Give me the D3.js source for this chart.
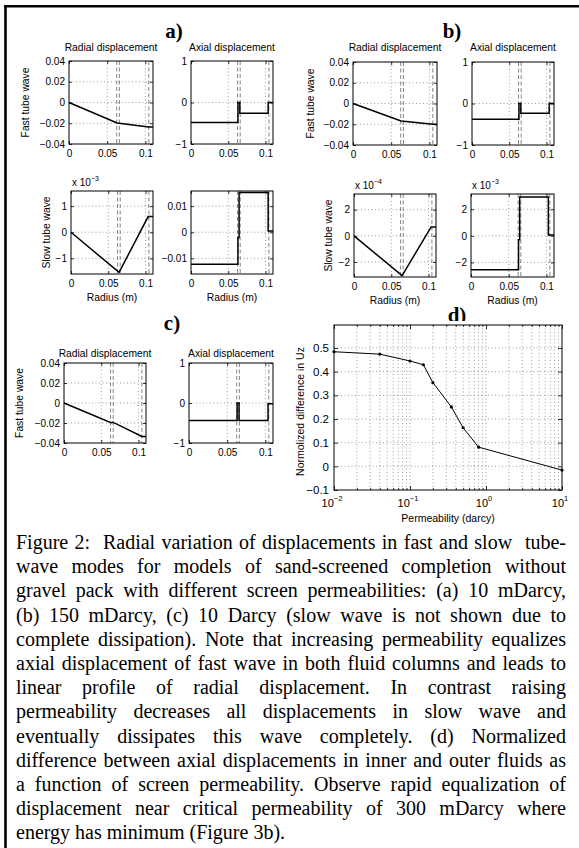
<!DOCTYPE html>
<html>
<head>
<meta charset="utf-8">
<script src="https://cdn.jsdelivr.net/npm/d3@7"></script>
<style>
  body { margin: 0; background: #fff; }
  svg text { font-family: "Liberation Sans", Arial, sans-serif; fill: #000; }
</style>
</head>
<body>
<svg id="fig" width="579" height="848"></svg>
<script>
// ---- data ----
const interfaces = [0.0625, 0.066, 0.1045];   // dashed lines (m)
const radiusTicks = [0, 0.05, 0.1];

// (a) 10 mDarcy
const fastRadA_r = [0, 0.063, 0.1045, 0.11];
const fastRadA_u = [0, -0.0198, -0.0236, -0.0236];
const fastAxA_r = [0, 0.063, 0.063, 0.0655, 0.0655, 0.1035, 0.1035, 0.11];
const fastAxA_u = [-0.48, -0.48, 0, 0, -0.26, -0.26, 0, 0];
const slowRadA_r = [0, 0.0645, 0.1035, 0.11];
const slowRadA_u = [0, -1.54, 0.6, 0.6];          // x 10^-3
const slowAxA_r = [0, 0.063, 0.063, 0.0645, 0.0645, 0.1035, 0.1035, 0.11];
const slowAxA_u = [-0.0123, -0.0123, -0.002, -0.002, 0.0152, 0.0152, 0.0005, 0.0005];

// (b) 150 mDarcy
const fastRadB_r = [0, 0.063, 0.1045, 0.11];
const fastRadB_u = [0, -0.0168, -0.0200, -0.0200];
const fastAxB_r = [0, 0.063, 0.063, 0.0655, 0.0655, 0.1035, 0.1035, 0.11];
const fastAxB_u = [-0.38, -0.38, 0, 0, -0.235, -0.235, 0, 0];
const slowRadB_r = [0, 0.0645, 0.1035, 0.11];
const slowRadB_u = [0, -3.05, 0.68, 0.68];        // x 10^-4
const slowAxB_r = [0, 0.063, 0.063, 0.0645, 0.0645, 0.1025, 0.1025, 0.11];
const slowAxB_u = [-2.55, -2.55, -0.3, -0.3, 2.92, 2.92, 0.07, 0.07]; // x 10^-3

// (c) 10 Darcy
const fastRadC_r = [0, 0.063, 0.0655, 0.1045, 0.11];
const fastRadC_u = [0, -0.0198, -0.0192, -0.0334, -0.0334];
const fastAxC_r = [0, 0.063, 0.063, 0.0655, 0.0655, 0.1035, 0.1035, 0.11];
const fastAxC_u = [-0.44, -0.44, 0, 0, -0.44, -0.44, -0.02, -0.02];

// (d) normalized difference vs permeability
const perm = [0.01, 0.04, 0.1, 0.15, 0.2, 0.35, 0.5, 0.8, 10];
const diffUz = [0.484, 0.474, 0.445, 0.429, 0.354, 0.251, 0.163, 0.081, -0.016];
const dYTicks = [-0.1, 0, 0.1, 0.2, 0.3, 0.4, 0.5];
const dXTicks = [0.01, 0.1, 1, 10];
const dXExp = ["\u22122", "\u22121", "0", "1"];

const captionLines = [
  "Figure 2:  Radial variation of displacements in fast and slow  tube-",
  "wave modes for models of sand-screened completion without",
  "gravel pack with different screen permeabilities: (a) 10 mDarcy,",
  "(b) 150 mDarcy, (c) 10 Darcy (slow wave is not shown due to",
  "complete dissipation). Note that increasing permeability equalizes",
  "axial displacement of fast wave in both fluid columns and leads to",
  "linear profile of radial displacement. In contrast raising",
  "permeability decreases all displacements in slow wave and",
  "eventually dissipates this wave completely. (d) Normalized",
  "difference between axial displacements in inner and outer fluids as",
  "a function of screen permeability. Observe rapid equalization of",
  "displacement near critical permeability of 300 mDarcy where",
  "energy has minimum (Figure 3b)."
];

const svg = d3.select("#fig");
const fmt = d3.format("~g");

// frame (top and left rules)
svg.append("line").attr("x1", 4).attr("x2", 579).attr("y1", 6.3).attr("y2", 6.3)
  .attr("stroke", "#000").attr("stroke-width", 2.6);
svg.append("line").attr("x1", 5.5).attr("x2", 5.5).attr("y1", 5).attr("y2", 848)
  .attr("stroke", "#000").attr("stroke-width", 2.6);

// panel letters
const letters = [["a)", 174, 38], ["b)", 452, 38], ["c)", 172, 330], ["d)", 457, 322]];
svg.selectAll("text.letter").data(letters).enter().append("text")
  .attr("class", "letter")
  .attr("x", d => d[1])
  .attr("y", d => d[2])
  .attr("text-anchor", "middle")
  .style("font-family", "'Liberation Serif', 'Times New Roman', serif")
  .style("font-weight", "bold").style("font-size", "21px")
  .text(d => d[0]);

// small panels: layout + which data
const panels = [
  {x0: 69, x1: 153, y0: 61, y1: 144, yDom: [-0.04, 0.04], yTicks: [-0.04, -0.02, 0, 0.02, 0.04],
   r: fastRadA_r, u: fastRadA_u, title: "Radial displacement", tY: 50.5, ylab: "Fast tube wave", ylabX: 25},
  {x0: 191, x1: 273, y0: 61, y1: 144, yDom: [-1, 1], yTicks: [-1, 0, 1],
   r: fastAxA_r, u: fastAxA_u, title: "Axial displacement", tY: 50.5},
  {x0: 353, x1: 437, y0: 62, y1: 145, yDom: [-0.04, 0.04], yTicks: [-0.04, -0.02, 0, 0.02, 0.04],
   r: fastRadB_r, u: fastRadB_u, title: "Radial displacement", tY: 50.5, ylab: "Fast tube wave", ylabX: 310},
  {x0: 472, x1: 554, y0: 62, y1: 145, yDom: [-1, 1], yTicks: [-1, 0, 1],
   r: fastAxB_r, u: fastAxB_u, title: "Axial displacement", tY: 50.5},
  {x0: 71, x1: 153, y0: 191, y1: 274, yDom: [-1.6, 1.58], yTicks: [-1, 0, 1],
   r: slowRadA_r, u: slowRadA_u, exp: "\u22123", ylab: "Slow tube wave", ylabX: 46, xlab: true},
  {x0: 191, x1: 273, y0: 191, y1: 274, yDom: [-0.016, 0.0158], yTicks: [-0.01, 0, 0.01],
   r: slowAxA_r, u: slowAxA_u, xlab: true},
  {x0: 354, x1: 436, y0: 194, y1: 277, yDom: [-3.15, 3.2], yTicks: [-2, 0, 2],
   r: slowRadB_r, u: slowRadB_u, exp: "\u22124", ylab: "Slow tube wave", ylabX: 328, xlab: true},
  {x0: 471, x1: 554, y0: 194, y1: 277, yDom: [-3.1, 3.15], yTicks: [-2, 0, 2],
   r: slowAxB_r, u: slowAxB_u, exp: "\u22123", xlab: true},
  {x0: 64, x1: 146, y0: 363, y1: 443, yDom: [-0.04, 0.04], yTicks: [-0.04, -0.02, 0, 0.02, 0.04],
   r: fastRadC_r, u: fastRadC_u, title: "Radial displacement", tY: 357, ylab: "Fast tube wave", ylabX: 19},
  {x0: 189, x1: 273, y0: 363, y1: 443, yDom: [-1, 1], yTicks: [-1, 0, 1],
   r: fastAxC_r, u: fastAxC_u, title: "Axial displacement", tY: 357}
];

function drawPanel(p) {
  const x = d3.scaleLinear().domain([0, 0.11]).range([p.x0, p.x1]);
  const y = d3.scaleLinear().domain(p.yDom).range([p.y1, p.y0]);
  const g = svg.append("g");

  // dotted grid
  g.selectAll(".hg").data(p.yTicks.filter(v => y(v) > p.y0 + 1 && y(v) < p.y1 - 1))
    .enter().append("line")
    .attr("x1", p.x0).attr("x2", p.x1).attr("y1", d => y(d)).attr("y2", d => y(d))
    .attr("stroke", "#888").attr("stroke-width", 0.8).attr("stroke-dasharray", "1,2.5");
  g.selectAll(".vg").data(radiusTicks.filter(v => v > 0))
    .enter().append("line")
    .attr("x1", d => x(d)).attr("x2", d => x(d)).attr("y1", p.y0).attr("y2", p.y1)
    .attr("stroke", "#888").attr("stroke-width", 0.8).attr("stroke-dasharray", "1,2.5");
  // dashed interface lines
  g.selectAll(".ifc").data(interfaces).enter().append("line")
    .attr("x1", d => x(d)).attr("x2", d => x(d)).attr("y1", p.y0).attr("y2", p.y1)
    .attr("stroke", "#666").attr("stroke-width", 0.8).attr("stroke-dasharray", "4,2.5");

  // curve
  g.append("path").datum(d3.zip(p.r, p.u))
    .attr("fill", "none").attr("stroke", "#000").attr("stroke-width", 1.5)
    .attr("d", d3.line().x(d => x(d[0])).y(d => y(d[1])));

  // axes
  g.append("g").attr("transform", `translate(${p.x0},0)`)
    .call(d3.axisLeft(y).tickValues(p.yTicks).tickFormat(fmt).tickSize(-3).tickPadding(4));
  g.append("g").attr("transform", `translate(${p.x1},0)`)
    .call(d3.axisRight(y).tickValues(p.yTicks).tickFormat("").tickSize(-3));
  g.append("g").attr("transform", `translate(0,${p.y1})`)
    .call(d3.axisBottom(x).tickValues(radiusTicks).tickFormat(fmt).tickSize(-3).tickPadding(6));
  g.append("g").attr("transform", `translate(0,${p.y0})`)
    .call(d3.axisTop(x).tickValues(radiusTicks).tickFormat("").tickSize(-3));
  g.selectAll(".domain").remove();
  g.selectAll(".tick line").attr("stroke", "#000").attr("stroke-width", 0.8);
  g.selectAll(".tick text").style("font-size", "10px").attr("fill", "#000");

  g.append("rect").attr("x", p.x0).attr("y", p.y0)
    .attr("width", p.x1 - p.x0).attr("height", p.y1 - p.y0)
    .attr("fill", "none").attr("stroke", "#000").attr("stroke-width", 1);

  if (p.title) {
    g.append("text").attr("x", (p.x0 + p.x1) / 2).attr("y", p.tY)
      .attr("text-anchor", "middle").style("font-size", "10.3px").text(p.title);
  }
  if (p.ylab) {
    g.append("text")
      .attr("transform", `translate(${p.ylabX},${(p.y0 + p.y1) / 2}) rotate(-90)`)
      .attr("text-anchor", "middle").attr("dy", "0.35em")
      .style("font-size", "10.3px").text(p.ylab);
  }
  if (p.xlab) {
    g.append("text").attr("x", (p.x0 + p.x1) / 2).attr("y", p.y1 + 27)
      .attr("text-anchor", "middle").style("font-size", "10.3px").text("Radius (m)");
  }
  if (p.exp) {
    const t = g.append("text").attr("x", p.x0 + 1).attr("y", p.y0 - 5).style("font-size", "10px");
    t.append("tspan").text("x 10");
    t.append("tspan").attr("dy", -5).style("font-size", "7px").text(p.exp);
  }
}
panels.forEach(drawPanel);

// ---- panel d ----
(function () {
  const x0 = 334, x1 = 562, y0 = 325, y1 = 490;
  const x = d3.scaleLog().domain([0.01, 10]).range([x0, x1]);
  const y = d3.scaleLinear().domain([-0.1, 0.597]).range([y1, y0]);
  const g = svg.append("g");

  g.append("rect").attr("x", x0).attr("y", y0 - 4).attr("width", x1 - x0).attr("height", 5).attr("fill", "#fff");

  const minor = [];
  for (let e = -2; e < 1; e++) for (let m = 2; m <= 9; m++) minor.push(m * Math.pow(10, e));
  const vgrid = minor.concat([0.1, 1]);

  g.selectAll(".vg").data(vgrid).enter().append("line")
    .attr("x1", d => x(d)).attr("x2", d => x(d)).attr("y1", y0).attr("y2", y1)
    .attr("stroke", "#888").attr("stroke-width", 0.8).attr("stroke-dasharray", "1,2.5");
  g.selectAll(".hg").data(dYTicks.filter(v => v > -0.1)).enter().append("line")
    .attr("x1", x0).attr("x2", x1).attr("y1", d => y(d)).attr("y2", d => y(d))
    .attr("stroke", "#888").attr("stroke-width", 0.8).attr("stroke-dasharray", "1,2.5");

  g.append("g").attr("transform", `translate(${x0},0)`)
    .call(d3.axisLeft(y).tickValues(dYTicks).tickFormat(fmt).tickSize(-4).tickPadding(5));
  g.append("g").attr("transform", `translate(${x1},0)`)
    .call(d3.axisRight(y).tickValues(dYTicks).tickFormat("").tickSize(-4));
  g.append("g").attr("transform", `translate(0,${y1})`)
    .call(d3.axisBottom(x).tickValues(dXTicks).tickFormat("").tickSize(-4));
  g.append("g").attr("transform", `translate(0,${y0})`)
    .call(d3.axisTop(x).tickValues(dXTicks).tickFormat("").tickSize(-4));
  g.append("g").attr("transform", `translate(0,${y1})`)
    .call(d3.axisBottom(x).tickValues(minor).tickFormat("").tickSize(-2));
  g.append("g").attr("transform", `translate(0,${y0})`)
    .call(d3.axisTop(x).tickValues(minor).tickFormat("").tickSize(-2));
  g.selectAll(".domain").remove();
  g.selectAll(".tick line").attr("stroke", "#000").attr("stroke-width", 0.8);
  g.selectAll(".tick text").style("font-size", "11.5px").attr("fill", "#000");

  g.append("rect").attr("x", x0).attr("y", y0).attr("width", x1 - x0).attr("height", y1 - y0)
    .attr("fill", "none").attr("stroke", "#000").attr("stroke-width", 1);

  // x tick labels 10^n
  const lab = g.selectAll(".xl").data(dXTicks).enter().append("text")
    .attr("x", d => x(d) - 2).attr("y", y1 + 17).attr("text-anchor", "middle")
    .style("font-size", "11px");
  lab.append("tspan").text("10");
  lab.append("tspan").attr("dy", -6).style("font-size", "7.5px").text((d, i) => dXExp[i]);

  const pts = d3.zip(perm, diffUz);
  g.append("path").datum(pts).attr("fill", "none").attr("stroke", "#000").attr("stroke-width", 1)
    .attr("d", d3.line().x(d => x(d[0])).y(d => y(d[1])));
  g.selectAll(".pt").data(pts).enter().append("circle")
    .attr("cx", d => x(d[0])).attr("cy", d => y(d[1])).attr("r", 1.6).attr("fill", "#000");

  g.append("text").attr("x", (x0 + x1) / 2).attr("y", y1 + 32).attr("text-anchor", "middle")
    .style("font-size", "10.5px").text("Permeability (darcy)");
  g.append("text").attr("transform", `translate(300,${(y0 + y1) / 2 + 4}) rotate(-90)`)
    .attr("text-anchor", "middle").attr("dy", "0.35em")
    .style("font-size", "10.5px").text("Normolized difference in Uz");
})();

// ---- caption, justified by hand ----
const capLeft = 16, capRight = 566, capTop = 549, capStep = 24.2;
captionLines.forEach(function (line, i) {
  const tokens = line.split(" ");
  const y = capTop + i * capStep;
  const nodes = tokens.map(function (w) {
    return svg.append("text").attr("y", y)
      .style("font-family", "'Liberation Serif', 'Times New Roman', serif")
      .style("font-size", "20px").text(w);
  });
  const widths = nodes.map(n => n.text() ? n.node().getComputedTextLength() : 0);
  const total = d3.sum(widths);
  const gaps = tokens.length - 1;
  const last = i === captionLines.length - 1;
  const gap = last ? 5 : (capRight - capLeft - total) / gaps;
  let xp = capLeft;
  nodes.forEach(function (n, k) {
    n.attr("x", xp);
    xp += widths[k] + gap;
  });
});
</script>
</body>
</html>
